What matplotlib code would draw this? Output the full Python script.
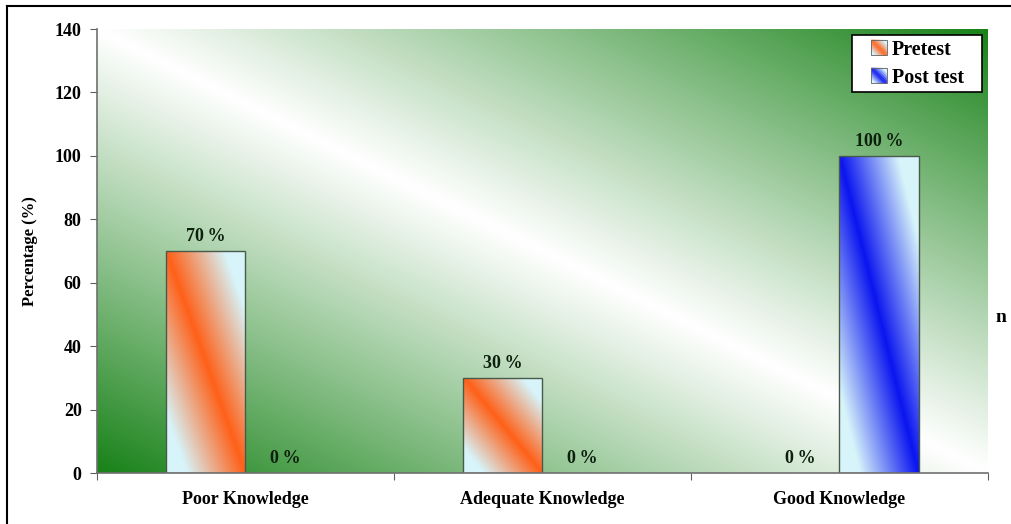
import numpy as np
import matplotlib
matplotlib.use("Agg")
import matplotlib.pyplot as plt
from matplotlib.patches import Rectangle, Polygon
from matplotlib.legend_handler import HandlerBase
from matplotlib.lines import Line2D

categories = ["Poor Knowledge", "Adequate Knowledge", "Good Knowledge"]
pretest = [70, 30, 0]
posttest = [0, 0, 100]
series_names = ["Pretest", "Post test"]
y_ticks = [0, 20, 40, 60, 80, 100, 120, 140]

FONT = "Liberation Serif"
DARK_GREEN = np.array([24, 130, 24]) / 255.0
WHITE = np.array([1.0, 1.0, 1.0])
ORANGE = np.array([255, 96, 24]) / 255.0
BLUE = np.array([10, 20, 240]) / 255.0
ICE = np.array([215, 244, 250]) / 255.0
TEXT_DARK = "#0d200d"

fig = plt.figure(figsize=(10.12, 5.24), dpi=100)
ax = fig.add_axes([97 / 1012, 51 / 524, 891 / 1012, 444 / 524])

# diagonal green-white-green background
nx, ny = 400, 200
gx, gy = np.meshgrid(np.linspace(0, 1, nx), np.linspace(1, 0, ny))
t = np.clip(np.abs(gx + gy - 1.0), 0, 1) ** 1.05
bg = WHITE[None, None, :] * (1 - t[..., None]) + DARK_GREEN[None, None, :] * t[..., None]
ax.imshow(bg, extent=[0, 3, 0, 140], aspect="auto", zorder=0, interpolation="bilinear")

width = 0.266
x = np.arange(len(categories)) + 0.5


def gradient_block(base, mx=60, my=200, gain=1.35):
    u, v = np.meshgrid(np.linspace(0, 1, mx), np.linspace(0, 1, my))
    s = np.clip(np.abs(u - v) * gain, 0, 1)
    return base[None, None, :] * (1 - s[..., None]) + ICE[None, None, :] * s[..., None]


def draw_bars(values, offset, base):
    for xi, val in zip(x, values):
        x0 = xi + offset - width / 2
        if val > 0:
            img = ax.imshow(gradient_block(base), extent=[x0, x0 + width, 0, val],
                            aspect="auto", zorder=2, interpolation="bilinear")
            rect = Rectangle((x0, 0), width, val, facecolor="none",
                             edgecolor="#4a5a4a", linewidth=1.0, zorder=3)
            ax.add_patch(rect)
            img.set_clip_path(rect)
        ax.annotate(f"{val}\u2009%", (xi + offset, val), xytext=(0, 4),
                    textcoords="offset points", ha="center", va="bottom",
                    fontsize=13, fontweight="bold", family=FONT, color=TEXT_DARK)


draw_bars(pretest, -width / 2, ORANGE)
draw_bars(posttest, width / 2, BLUE)

ax.set_xlim(0, 3)
ax.set_ylim(0, 140)
ax.set_yticks(y_ticks)
ax.set_yticklabels([str(v) for v in y_ticks], fontsize=13, fontweight="bold", family=FONT)
ax.set_xticks([0, 1, 2, 3])
ax.set_xticklabels([])
ax.set_xticks(x, minor=True)
ax.set_xticklabels(categories, minor=True, fontsize=13, fontweight="bold", family=FONT)
ax.tick_params(axis="x", which="minor", length=0, pad=13)
ax.tick_params(axis="x", which="major", length=5, color="#606060", direction="out")
ax.tick_params(axis="y", length=5, color="#606060", direction="out", pad=6)
for side in ["top", "right"]:
    ax.spines[side].set_visible(False)
for side in ["left", "bottom"]:
    ax.spines[side].set_color("#707070")
    ax.spines[side].set_linewidth(1.2)
    ax.spines[side].set_zorder(4)

ax.set_ylabel("Percentage (%)", fontsize=12, fontweight="bold", family=FONT, labelpad=12)


class GradientSquare(HandlerBase):
    def __init__(self, base):
        super().__init__()
        self.base = base

    def create_artists(self, legend, orig_handle, xdescent, ydescent, width_, height,
                       fontsize, trans):
        size = 11.0
        x0 = -xdescent + (width_ - size)
        y0 = -ydescent + (height - size) / 2
        artists = []
        n = 12
        corners = [(0, 0), (1, 0), (1, 1), (0, 1)]
        # diagonal bands: band i covers points with a0 <= u - v <= a1 (v measured downward)
        for i in range(n):
            a0 = -1 + 2 * i / n
            a1 = -1 + 2 * (i + 1) / n
            s = np.clip(abs((a0 + a1) / 2) * 1.35, 0, 1)
            col = self.base * (1 - s) + ICE * s
            poly = []
            for k in range(4):
                p = corners[k]
                q = corners[(k + 1) % 4]
                dp = p[0] - p[1]
                dq = q[0] - q[1]
                if a0 <= dp <= a1:
                    poly.append(p)
                for a in (a0, a1):
                    if (dp - a) * (dq - a) < 0:
                        f = (a - dp) / (dq - dp)
                        poly.append((p[0] + f * (q[0] - p[0]), p[1] + f * (q[1] - p[1])))
            if len(poly) >= 3:
                c = np.mean(poly, axis=0)
                poly.sort(key=lambda pt: np.arctan2(pt[1] - c[1], pt[0] - c[0]))
                verts = [(x0 + size * u, y0 + size * (1 - v)) for u, v in poly]
                artists.append(Polygon(verts, closed=True, facecolor=col,
                                       edgecolor=col, linewidth=0.3, transform=trans))
        artists.append(Rectangle((x0, y0), size, size, facecolor="none",
                                 edgecolor="#606060", linewidth=0.6, transform=trans))
        return artists


# legend frame box drawn separately so horizontal and vertical padding can differ
box_x0, box_x1 = 0.847, 0.993
box_y0, box_y1 = 0.858, 0.986
ax.add_patch(Rectangle((box_x0, box_y0), box_x1 - box_x0, box_y1 - box_y0,
                       transform=ax.transAxes, facecolor="white", edgecolor="black",
                       linewidth=1.2, zorder=5))

h1 = Rectangle((0, 0), 1, 1)
h2 = Rectangle((0, 0), 1, 1)
leg = ax.legend([h1, h2], series_names, loc="center",
                bbox_to_anchor=((box_x0 + box_x1) / 2, (box_y0 + box_y1) / 2),
                borderaxespad=0, frameon=False, handlelength=0.85, handletextpad=0.25,
                borderpad=0.0, labelspacing=0.4,
                prop={"family": FONT, "weight": "bold", "size": 14.5},
                handler_map={h1: GradientSquare(ORANGE), h2: GradientSquare(BLUE)})
leg.set_zorder(6)

fig.text(1001 / 1012, 1 - 318 / 524, "n", ha="center", va="center",
         fontsize=14, fontweight="bold", family=FONT, color="black")

# outer frame lines
fig.add_artist(Line2D([7 / 1012, 7 / 1012], [0, 1 - 6 / 524], transform=fig.transFigure,
                      color="black", linewidth=1.5))
fig.add_artist(Line2D([7 / 1012, 1.0], [1 - 6 / 524, 1 - 6 / 524], transform=fig.transFigure,
                      color="black", linewidth=1.5))

fig.savefig("out.png", dpi=100)
